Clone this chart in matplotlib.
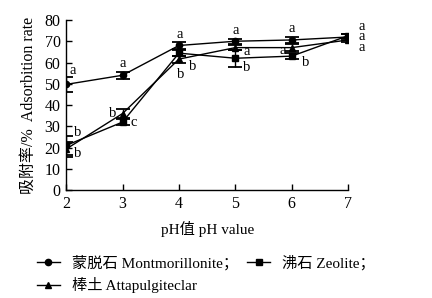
import numpy as np
import matplotlib
matplotlib.use('Agg')
import matplotlib.pyplot as plt
from matplotlib.lines import Line2D

plt.rcParams['font.family'] = ['Liberation Serif', 'Noto Sans CJK SC']
plt.rcParams['axes.unicode_minus'] = False

# 数据
ph = [2, 3, 4, 5, 6, 7]
mont = [49.7, 54.0, 68.0, 70.0, 70.6, 72.0]
mont_err = [3.7, 1.7, 1.6, 1.2, 1.5, 1.2]
mont_sig = ['a', 'a', 'a', 'a', 'a', 'a']
zeo = [21.0, 32.0, 64.4, 62.0, 63.0, 72.6]
zeo_err = [4.5, 1.5, 1.5, 4.0, 1.5, 1.0]
zeo_sig = ['b', 'c', 'b', 'b', 'b', 'a']
atta = [19.3, 36.0, 61.6, 67.0, 67.0, 70.6]
atta_err = [3.5, 2.0, 1.6, 1.0, 1.5, 1.0]
atta_sig = ['b', 'b', 'b', 'a', 'a', 'a']

labels = ['蒙脱石 Montmorillonite；', '沸石 Zeolite；', '棒土 Attapulgiteclar']
yticks = [0, 10, 20, 30, 40, 50, 60, 70, 80]

# 显著性字母的偏移 (points), 最后一个点 (pH 7) 三个字母合并标注
mont_off = [(4.5, 10), (0, 8.6), (0.7, 8), (0, 8), (0, 8)]
zeo_off = [(8, 9.4), (8, 0), (10, -9.4), (8, -7), (10, -4.5)]
atta_off = [(8.6, -3), (-7, 0), (1, -11), (8, -3), (-6.5, -2)]

fig = plt.figure(figsize=(4.32, 2.98), dpi=100)
ax = fig.add_axes([0.153, 0.362, 0.653, 0.571])

series = [
    (mont, mont_err, mont_sig, mont_off, 'o', 4.5),
    (zeo, zeo_err, zeo_sig, zeo_off, 's', 5),
    (atta, atta_err, atta_sig, atta_off, '^', 4.5),
]
handles = []
for vals, err, sig, off, mk, ms in series:
    ax.errorbar(ph, vals, yerr=err, color='black', marker=mk, markersize=ms,
                linewidth=1.0, elinewidth=1.0, capsize=4.7, capthick=1.3)
    handles.append(Line2D([], [], color='black', marker=mk, markersize=ms, linewidth=1.0))
    for x, y, s, o in zip(ph[:-1], vals[:-1], sig[:-1], off):
        ax.annotate(s, (x, y), xytext=o, textcoords='offset points',
                    ha='center', va='center', fontsize=10.5)

# pH 7 处三个字母纵向排列
last = '\n'.join([zeo_sig[-1], mont_sig[-1], atta_sig[-1]])
ax.annotate(last, (ph[-1], np.mean([zeo[-1], mont[-1], atta[-1]])),
            xytext=(9.5, 0.5), textcoords='offset points', ha='center',
            va='center', fontsize=10.5, linespacing=0.72, annotation_clip=False)

ax.set_xlim(2, 7)
ax.set_ylim(0, 80)
ax.set_xticks(ph)
ax.set_yticks(yticks)
ax.tick_params(direction='in', length=4.5, width=1.0, labelsize=11.5, pad=4)
ax.spines['top'].set_visible(False)
ax.spines['right'].set_visible(False)
ax.spines['left'].set_linewidth(1.0)
ax.spines['bottom'].set_linewidth(1.0)

ax.set_xlabel('pH值 pH value', fontsize=11, labelpad=7)
fig.text(0.067, 0.645, '吸附率/%  Adsorbition rate', rotation=90,
         ha='center', va='center', fontsize=11.5)

# 图例: 第一行两项, 第二行一项
leg = fig.legend([handles[0], handles[2], handles[1]],
                 [labels[0], labels[2], labels[1]],
                 ncol=2, loc='upper left', bbox_to_anchor=(0.085, 0.145),
                 frameon=False, fontsize=11, handlelength=1.5,
                 handletextpad=0.8, columnspacing=0.6, borderpad=0,
                 borderaxespad=0, labelspacing=0.45)

fig.savefig('out.png', dpi=100)
